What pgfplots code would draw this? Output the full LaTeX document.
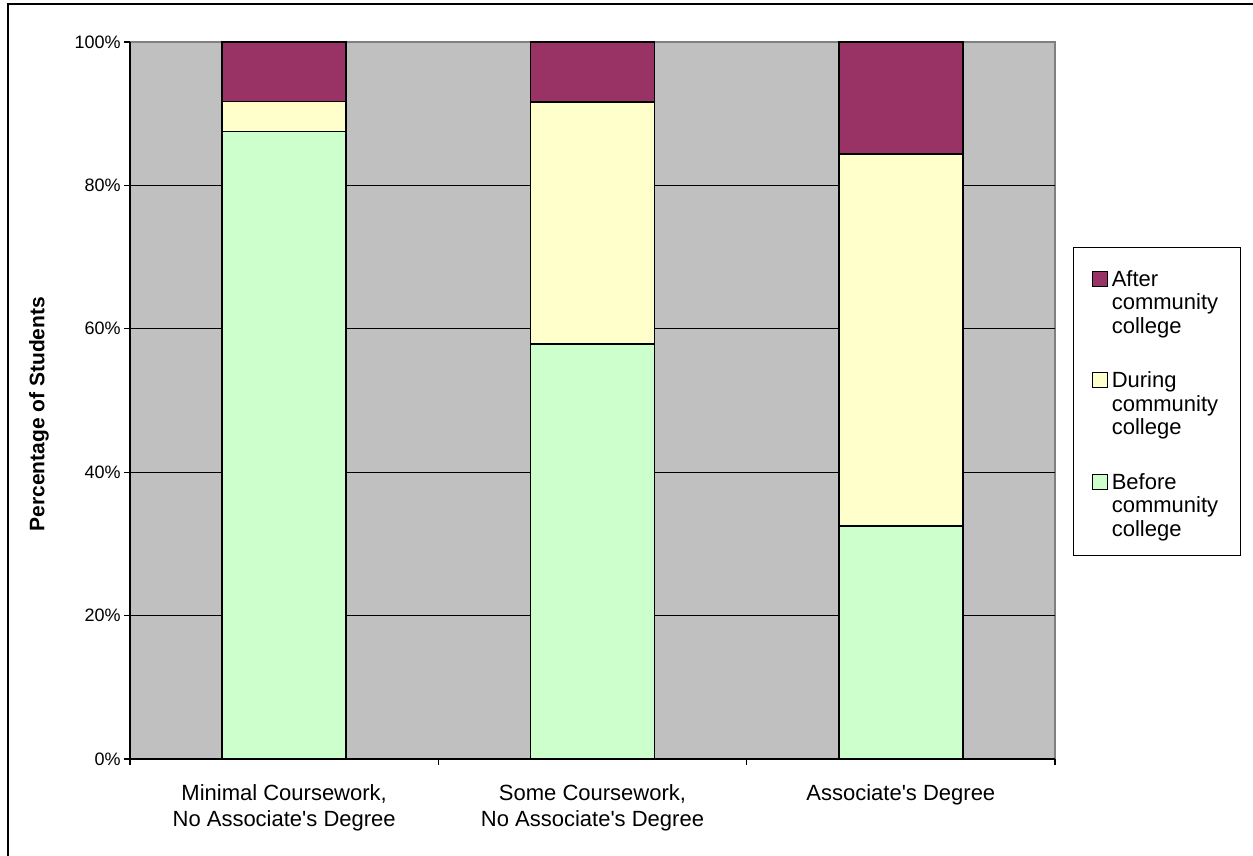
\documentclass[border=0pt]{standalone}
\usepackage{fontspec}
\setmainfont{Liberation Sans}[Ligatures=TeXOff]
\usepackage{pgfplots}
\pgfplotsset{compat=1.18}

\definecolor{plotbg}{HTML}{C0C0C0}
\definecolor{afterc}{HTML}{993366}
\definecolor{duringc}{HTML}{FFFFCC}
\definecolor{beforec}{HTML}{CCFFCC}
\definecolor{framegray}{HTML}{808080}

% square legend swatch on the first text baseline; the invisible path
% reserves the height of the three-line entry text
\pgfplotsset{sqleg/.style={legend image code/.code={%
  \path[fill=none,draw=none] (0pt,-24.5pt) rectangle (7.5pt,11pt);
  \draw[##1,draw=black,line width=0.6pt] (0pt,0pt) rectangle (7.5pt,7.5pt);}}}

\newcommand{\entry}[1]{\begin{tabular}[t]{@{}l@{}}#1\\community\\college\end{tabular}}

\begin{document}
\begin{tikzpicture}
\path[use as bounding box] (0,0) rectangle (626.5pt,428pt);
\draw[line width=0.9pt] (3.85pt,-20pt) rectangle (700pt,425.9pt);
\begin{axis}[
  at={(65pt,48.5pt)}, anchor=south west,
  width=462.5pt, height=358.5pt, scale only axis,
  ybar stacked, bar width=0.402,
  xmin=-0.5, xmax=2.5, ymin=0, ymax=100,
  axis x line*=bottom, axis y line*=left,
  axis line style={black, line width=0.6pt},
  axis background/.style={fill=plotbg, draw=framegray, line width=1pt},
  tick align=outside, major tick length=3pt,
  tick style={black, line width=0.6pt},
  xtick={-0.5,0.5,1.5,2.5}, xticklabels={},
  extra x ticks={0,1,2},
  extra x tick labels={{Minimal Coursework,\\No Associate's Degree},{Some Coursework,\\No Associate's Degree},{Associate's Degree}},
  extra x tick style={major tick length=0pt},
  xticklabel style={align=center, anchor=north, inner sep=0pt, yshift=-12.5pt,
    font=\fontsize{11}{13}\selectfont},
  ytick={0,20,...,100},
  yticklabel={\pgfmathprintnumber[assume math mode=true]{\tick}\%},
  yticklabel style={font=\fontsize{9}{10}\selectfont, inner sep=0pt, xshift=-1.5pt},
  extra y ticks={20,40,60,80}, extra y tick labels={},
  extra y tick style={major tick length=0pt, grid=major,
    major grid style={black, line width=0.5pt}},
  ylabel={Percentage of Students},
  ylabel style={font=\fontsize{10.5}{12}\selectfont\bfseries,
    at={(axis description cs:-0.0984,0.481)}, anchor=center},
  reverse legend,
  legend style={at={(1.01946,0.7141)}, anchor=north west, draw=black,
    line width=0.6pt, fill=white, inner xsep=9pt, inner ysep=8.4pt,
    row sep=15.25pt, column sep=0pt,
    cells={anchor=base west, inner sep=0pt},
    font=\fontsize{11}{11.75}\selectfont},
]
\addplot[fill=beforec, draw=black, line width=0.75pt, sqleg]
  coordinates {(0,87.5) (1,57.9) (2,32.5)};
\addlegendentry{\entry{Before}}
\addplot[fill=duringc, draw=black, line width=0.75pt, sqleg]
  coordinates {(0,4.2) (1,33.7) (2,51.9)};
\addlegendentry{\entry{During}}
\addplot[fill=afterc, draw=black, line width=0.75pt, sqleg]
  coordinates {(0,8.3) (1,8.4) (2,15.6)};
\addlegendentry{\entry{After}}
\end{axis}
\end{tikzpicture}
\end{document}
